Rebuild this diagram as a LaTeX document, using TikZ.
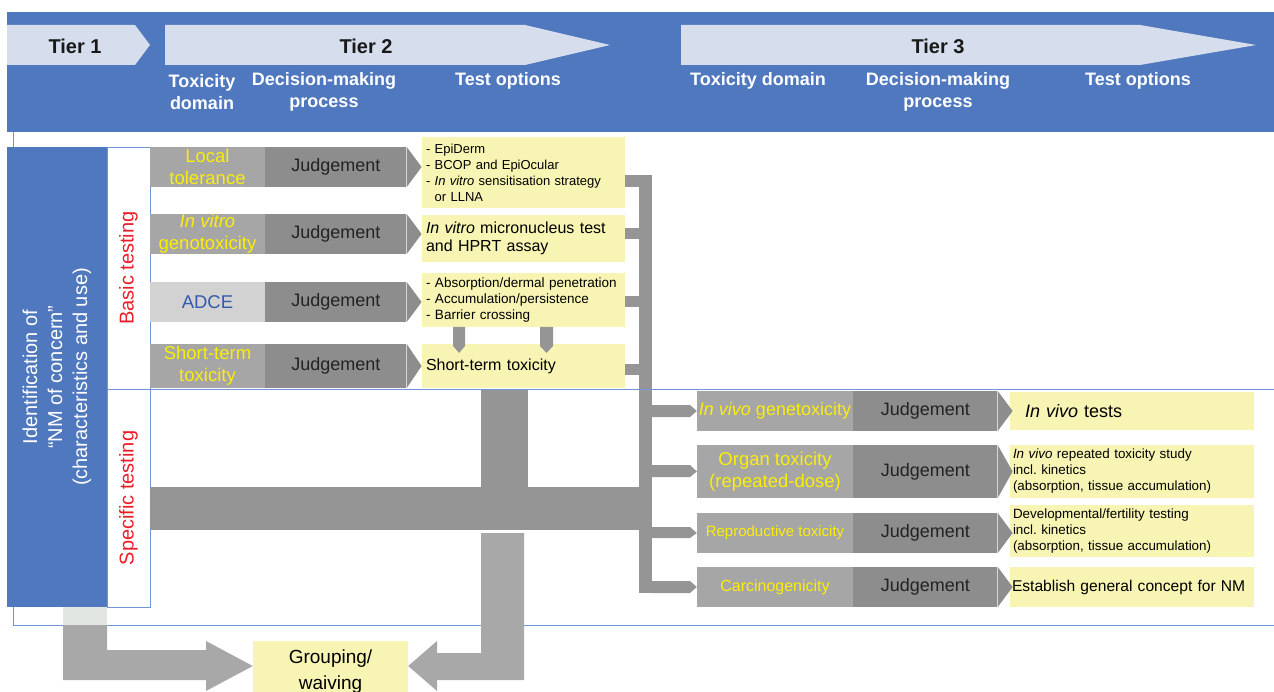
\documentclass[tikz,border=0pt]{standalone}
\usepackage{fontspec}
\setmainfont{Liberation Sans}
\usetikzlibrary{positioning}
\frenchspacing

\definecolor{hdrblue}{RGB}{79,120,190}
\definecolor{hdrlight}{RGB}{214,222,238}
\definecolor{lineblue}{RGB}{110,150,215}
\definecolor{optyellow}{RGB}{248,245,180}
\definecolor{domyellow}{RGB}{250,238,10}
\definecolor{domgray}{RGB}{166,166,166}
\definecolor{adcegray}{RGB}{210,210,210}
\definecolor{judgray}{RGB}{141,141,141}
\definecolor{bargray}{RGB}{149,149,149}
\definecolor{lbargray}{RGB}{168,168,168}
\definecolor{palegray}{RGB}{226,230,226}
\definecolor{adceblue}{RGB}{50,90,175}
\definecolor{testred}{RGB}{235,30,40}
\definecolor{judtext}{RGB}{35,35,35}

\newcommand{\fsz}[2]{\fontsize{#1}{#2}\selectfont}

\tikzset{
  tierlabel/.style={font=\bfseries\fsz{20}{24}, text=black!90, inner sep=0pt},
  colhead/.style={font=\bfseries\fsz{18}{22}, text=white, align=center, inner sep=0pt},
  dombox/.style={fill=domgray, text=domyellow, font=\fsz{18.5}{22}, align=center,
    minimum width=115pt, minimum height=40pt, inner sep=0pt},
  judgebox/.style={fill=judgray, text=judtext, font=\fsz{18}{22},
    minimum width=141pt, minimum height=40pt, inner sep=0pt},
  optbox/.style={fill=optyellow, text=black, align=left, inner xsep=4pt, inner ysep=0pt},
  testbox/.style={draw=lineblue, fill=white, text=testred, font=\fsz{20}{24}, rotate=90, inner sep=0pt},
  barfill/.style={fill=bargray},
  lbarfill/.style={fill=lbargray},
  framerule/.style={draw=lineblue, line width=0.9pt},
}

\begin{document}
\begin{tikzpicture}[x=1pt, y=-1pt]
\useasboundingbox (0,0) rectangle (1274,692);

\fill[hdrblue] (7,12) rectangle (1274,132);
\fill[hdrlight] (7,25) -- (135,25) -- (150,45) -- (135,65) -- (7,65) -- cycle;
\fill[hdrlight] (165,25) -- (525,25) -- (610,45) -- (525,65) -- (165,65) -- cycle;
\fill[hdrlight] (681,25) -- (1140,25) -- (1256,45) -- (1140,65) -- (681,65) -- cycle;
\node[tierlabel] (tier1) at (75,46) {Tier 1};
\node[tierlabel] (tier2) at (366,46) {Tier 2};
\node[tierlabel] (tier3) at (938,46) {Tier 3};
\node[colhead] (h1) at (202,92) {Toxicity\\domain};
\node[colhead] (h2) at (324,92) {Decision-making\\process};
\node[colhead] (h3) at (508,81) {Test options};
\node[colhead] (h4) at (758,81) {Toxicity domain};
\node[colhead] (h5) at (938,92) {Decision-making\\process};
\node[colhead] (h6) at (1138,81) {Test options};

\draw[framerule] (13,132) -- (13,625) -- (1274,625);

\node[fill=hdrblue, text=white, font=\fsz{20}{25}, rotate=90, align=center,
  minimum width=460pt, minimum height=100pt, inner sep=0pt] (ident) at (57,377)
  {Identification of\\``NM of concern''\\(characteristics and use)};
\node[testbox, minimum width=242pt, minimum height=43pt] (basic) at (128.5,268) {Basic testing};
\node[testbox, minimum width=218pt, minimum height=43pt] (specific) at (128.5,498) {Specific testing};

\node[dombox] (d1) at (207.5,167) {Local\\tolerance};
\node[judgebox, right=0pt of d1] (j1) {Judgement};
\node[dombox] (d2) at (207.5,234) {\textit{In vitro}\\genotoxicity};
\node[judgebox, right=0pt of d2] (j2) {Judgement};
\node[dombox, fill=adcegray, text=adceblue] (d3) at (207.5,302) {ADCE};
\node[judgebox, right=0pt of d3] (j3) {Judgement};
\node[dombox, minimum height=44pt] (d4) at (207.5,366) {Short-term\\toxicity};
\node[judgebox, minimum height=44pt, right=0pt of d4] (j4) {Judgement};

\node[optbox, text width=195pt, minimum height=71pt, font=\fsz{13}{16}] (o1) at (523.5,172.5)
  {- EpiDerm\\- BCOP and EpiOcular\\- \textit{In vitro} sensitisation strategy\\\hphantom{- }or LLNA};
\node[optbox, text width=195pt, minimum height=47pt, font=\fsz{16}{18}] (o2) at (523.5,238.5)
  {\textit{In vitro} micronucleus test\\and HPRT assay};
\node[optbox, text width=195pt, minimum height=54pt, font=\fsz{13.5}{16}] (o3) at (523.5,300)
  {- Absorption/dermal penetration\\- Accumulation/persistence\\- Barrier crossing};
\node[optbox, text width=195pt, minimum height=44pt, font=\fsz{16}{18}] (o4) at (523.5,366)
  {Short-term toxicity};

\node[dombox, minimum width=156pt, font=\fsz{18}{22}] (d5) at (775,411) {\textit{In vivo} genetoxicity};
\node[judgebox, minimum width=144pt, right=0pt of d5] (j5) {Judgement};
\node[dombox, minimum width=156pt, minimum height=53pt] (d6) at (775,471.5) {Organ toxicity\\(repeated-dose)};
\node[judgebox, minimum width=144pt, minimum height=53pt, right=0pt of d6] (j6) {Judgement};
\node[dombox, minimum width=156pt, font=\fsz{15}{18}] (d7) at (775,533) {Reproductive toxicity};
\node[judgebox, minimum width=144pt, right=0pt of d7] (j7) {Judgement};
\node[dombox, minimum width=156pt, font=\fsz{16}{18}] (d8) at (775,587) {Carcinogenicity};
\node[judgebox, minimum width=144pt, right=0pt of d8] (j8) {Judgement};

\node[optbox, text width=214pt, inner xsep=15pt, minimum height=38pt, font=\fsz{18}{22}] (o5) at (1132,411)
  {\textit{In vivo} tests};
\node[optbox, text width=238pt, inner xsep=3pt, minimum height=53pt, font=\fsz{13.4}{16}] (o6) at (1132,471.5)
  {\textit{In vivo} repeated toxicity study\\incl. kinetics\\(absorption, tissue accumulation)};
\node[optbox, text width=238pt, inner xsep=3pt, minimum height=52pt, font=\fsz{13.4}{16}] (o7) at (1132,531)
  {Developmental/fertility testing\\incl. kinetics\\(absorption, tissue accumulation)};
\node[optbox, text width=240pt, inner xsep=2pt, minimum height=40pt, font=\fsz{15.6}{18}] (o8) at (1132,587)
  {Establish general concept for NM};

\foreach \j in {j1,j2,j3,j4,j5,j6,j7,j8}
  \fill[judgray] (\j.north east) -- ([xshift=15pt]\j.east) -- (\j.south east) -- cycle;

\fill[barfill] (453,327) -- (465,327) -- (465,346) -- (459,353) -- (453,346) -- cycle;
\fill[barfill] (540,327) -- (553,327) -- (553,346) -- (546.5,353) -- (540,346) -- cycle;

\fill[barfill] (o1.east |- 0,175) rectangle (652,187);
\fill[barfill] (625,228) rectangle (640,239);
\fill[barfill] (625,296) rectangle (640,307);
\fill[barfill] (625,364) rectangle (640,375);
\fill[barfill] (639,175) rectangle (652,593);
\foreach \d/\ya/\yb in {d5/405/417, d6/465/477, d7/527/538, d8/581/593}
  \fill[barfill] (652,\ya) -- (690,\ya) -- (\d.west) -- (690,\yb) -- (652,\yb) -- cycle;
\fill[barfill] (481,389) rectangle (528,487);
\fill[barfill] (150,487) rectangle (645,530);

\draw[framerule] (107,389) -- (1274,389);

\node[fill=optyellow, minimum width=155pt, minimum height=62pt, font=\fsz{19}{26}, align=center,
  inner sep=0pt] (group) at (330.5,672) {Grouping/\\waiving};
\fill[palegray] (63,607) rectangle (107,625);
\fill[lbarfill] (63,625) -- (107,625) -- (107,650) -- (206,650) -- (206,641) -- ([yshift=6pt]group.west)
  -- (206,691) -- (206,680) -- (63,680) -- cycle;
\fill[lbarfill] (481,533) -- (524,533) -- (524,680) -- (437,680) -- (437,691) -- ([yshift=6pt]group.east)
  -- (437,641) -- (437,653) -- (481,653) -- cycle;
\end{tikzpicture}
\end{document}
